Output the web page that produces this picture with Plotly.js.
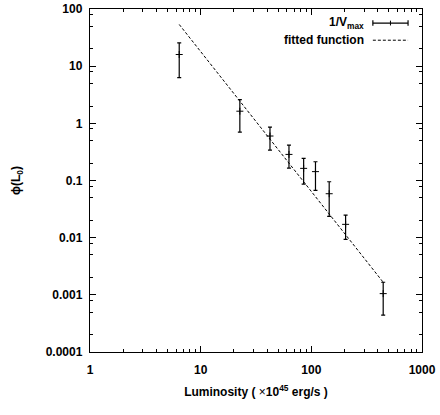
<!DOCTYPE html>
<html>
<head>
<meta charset="utf-8">
<script src="https://cdn.plot.ly/plotly-3.0.1.min.js"></script>
<style>
  html, body { margin: 0; padding: 0; background: #fff; }
  #chart { width: 440px; height: 415px; }
</style>
</head>
<body>
<div id="chart"></div>
<script>
// Data
const xLum      = [6.4, 22.6, 42.3, 62.8, 85.2, 109, 145, 204, 446];
const phi       = [16, 1.63, 0.60, 0.286, 0.163, 0.143, 0.0587, 0.0171, 0.00105];
const phiUpper  = [25.6, 2.59, 0.86, 0.416, 0.243, 0.213, 0.095, 0.0248, 0.00166];
const phiLower  = [6.3, 0.70, 0.34, 0.165, 0.0865, 0.067, 0.0236, 0.0093, 0.00044];
const fitX      = [6.4, 446];
const fitY      = [53.6, 0.00166];
const yTickVals = [0.0001, 0.001, 0.01, 0.1, 1, 10, 100];
const yTickText = ["0.0001", "0.001", "0.01", "0.1", "1", "10", "100"];
const xTickVals = [1, 10, 100, 1000];
const xTickText = ["1", "10", "100", "1000"];
const legendLabels = ["1/V<sub>max</sub>", "fitted function"];

const errPlus  = phiUpper.map((u, i) => u - phi[i]);
const errMinus = phi.map((v, i) => v - phiLower[i]);

const yMinor = [];
for (let e = -4; e < 2; e++) {
  [2, 5, 8].forEach(m => yMinor.push(m * Math.pow(10, e)));
}

const FONT = "Liberation Sans, Arial, Helvetica, sans-serif";

const traces = [
  {
    x: xLum, y: phi, type: "scatter", mode: "markers",
    marker: { symbol: "cross-thin", size: 5, color: "#000", line: { color: "#000", width: 1 } },
    error_y: { type: "data", symmetric: false, array: errPlus, arrayminus: errMinus,
               color: "#000", thickness: 1.2, width: 2 },
    name: legendLabels[0], showlegend: false
  },
  {
    x: fitX, y: fitY, type: "scatter", mode: "lines",
    line: { color: "#000", width: 1, dash: "3px,2px" },
    name: legendLabels[1], showlegend: false
  }
];

// legend geometry (paper coords)
const lx0 = 0.852, lx1 = 0.958, ly1 = 0.959, ly2 = 0.909, lxc = (lx0 + lx1) / 2;

const layout = {
  width: 440, height: 415,
  margin: { l: 90, r: 18, t: 9, b: 63 },
  paper_bgcolor: "#fff", plot_bgcolor: "#fff",
  showlegend: false,
  font: { family: FONT, color: "#000", size: 11 },
  xaxis: {
    type: "log", range: [0, 3],
    tickmode: "array", tickvals: xTickVals, ticktext: xTickText,
    ticks: "inside", ticklen: 6, tickwidth: 1, tickcolor: "#000",
    minor: { ticks: "inside", ticklen: 3, dtick: "D1", tickcolor: "#000", tickwidth: 1, showgrid: false },
    showline: true, linecolor: "#000", linewidth: 1.2, mirror: "allticks",
    showgrid: false, zeroline: false,
    tickfont: { family: FONT, size: 12, weight: "bold" },
    ticklabelstandoff: 6,
    title: { text: "Luminosity ( <span style='font-weight:normal'>×</span>10<sup>45</sup> erg/s )",
             font: { family: FONT, size: 12, weight: "bold" }, standoff: 12 }
  },
  yaxis: {
    type: "log", range: [-4, 2],
    tickmode: "array", tickvals: yTickVals, ticktext: yTickText,
    ticks: "inside", ticklen: 6, tickwidth: 1, tickcolor: "#000",
    minor: { ticks: "inside", ticklen: 3, tickmode: "array", tickvals: yMinor, tickcolor: "#000", tickwidth: 1, showgrid: false },
    showline: true, linecolor: "#000", linewidth: 1.2, mirror: "allticks",
    showgrid: false, zeroline: false,
    tickfont: { family: FONT, size: 12, weight: "bold" },
    ticklabelstandoff: 4,
    title: { text: "ϕ(L<sub>0</sub>)", font: { family: FONT, size: 12, weight: "bold" }, standoff: 22 }
  },
  shapes: [
    { type: "line", xref: "paper", yref: "paper", x0: lx0, x1: lx1, y0: ly1, y1: ly1, line: { color: "#000", width: 1.2 } },
    { type: "line", xref: "paper", yref: "paper", x0: lx0, x1: lx0, y0: ly1 - 0.008, y1: ly1 + 0.008, line: { color: "#000", width: 1.2 } },
    { type: "line", xref: "paper", yref: "paper", x0: lx1, x1: lx1, y0: ly1 - 0.008, y1: ly1 + 0.008, line: { color: "#000", width: 1.2 } },
    { type: "line", xref: "paper", yref: "paper", x0: lxc, x1: lxc, y0: ly1 - 0.007, y1: ly1 + 0.007, line: { color: "#000", width: 1 } },
    { type: "line", xref: "paper", yref: "paper", x0: lx0, x1: lx1, y0: ly2, y1: ly2, line: { color: "#000", width: 1, dash: "3px,2px" } }
  ],
  annotations: [
    { xref: "paper", yref: "paper", x: lx0 - 0.02, y: ly1, xanchor: "right", yanchor: "middle",
      text: legendLabels[0], showarrow: false, font: { family: FONT, size: 12, weight: "bold" } },
    { xref: "paper", yref: "paper", x: lx0 - 0.02, y: ly2, xanchor: "right", yanchor: "middle",
      text: legendLabels[1], showarrow: false, font: { family: FONT, size: 12, weight: "bold" } }
  ]
};

Plotly.newPlot("chart", traces, layout, { staticPlot: true, displayModeBar: false });
</script>
</body>
</html>
